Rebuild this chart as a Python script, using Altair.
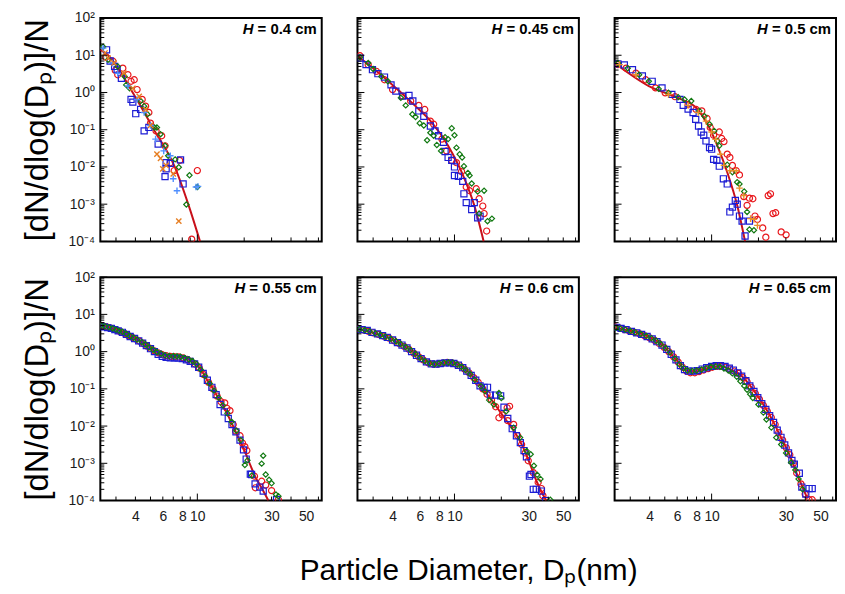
import altair as alt
import pandas as pd

FONT = "Liberation Sans"
X_DOMAIN = [2.38, 63.0]
Y_DOMAIN = [1e-4, 1e2]
X_LABELS = [4, 6, 8, 10, 30, 50]
X_MINOR = [3, 4, 5, 6, 7, 8, 9, 20, 30, 40, 50, 60]
X_MAJOR = [10]
Y_MAJOR = [1e-4, 1e-3, 1e-2, 1e-1, 1, 10, 100]
Y_MINOR = [k * 10.0 ** e for e in range(-4, 2) for k in range(2, 10)]
H_VALUES = ["0.4", "0.45", "0.5", "0.55", "0.6", "0.65"]

# ---------------- H = 0.4 cm ----------------
fit1 = [(2.38, 14), (2.67, 10), (3.84, 1.0), (5.26, 0.1), (7.16, 0.01), (8.74, 0.001), (10.4, 0.0001)]
p1_red = [(2.58, 8.9), (2.87, 6.9), (2.97, 3.9), (3.08, 3.0), (3.32, 4.5), (3.58, 3.0), (3.75, 2.0), (3.93, 2.2),
          (4.1, 1.2), (4.42, 0.65), (4.65, 0.43), (4.88, 0.29), (5.0, 0.15), (5.43, 0.093), (5.9, 0.069),
          (6.2, 0.037), (6.7, 0.013), (7.1, 0.008), (7.7, 0.015), (10.0, 0.008), (9.2, 0.000115)]
p1_green = [(2.48, 17), (2.67, 7.6), (3.08, 5.0), (3.41, 2.7), (3.49, 1.6), (3.67, 1.3), (4.32, 0.59), (4.55, 0.43),
            (4.78, 0.26), (5.3, 0.115), (5.5, 0.115), (5.8, 0.076), (6.2, 0.037), (6.5, 0.02), (7.2, 0.016),
            (7.6, 0.0098), (8.9, 0.006), (10.0, 0.0029), (8.5, 0.00098)]
p1_blue = [(2.61, 14), (2.75, 7.0), (2.94, 5.0), (3.05, 4.2), (3.25, 2.4), (3.75, 0.65), (3.85, 0.55), (4.02, 0.27),
           (4.32, 0.35), (4.55, 0.093), (4.88, 0.115), (5.6, 0.041), (6.3, 0.013), (6.3, 0.0089), (6.7, 0.0125),
           (7.8, 0.0155), (6.2, 0.0055), (8.1, 0.0035)]
p1_ltblue = [(2.48, 15.5), (2.84, 6.2), (3.08, 3.3), (3.58, 1.5), (4.1, 0.65), (4.55, 0.29), (5.0, 0.13),
             (5.39, 0.056), (6.08, 0.027), (6.7, 0.02), (7.0, 0.0048), (7.4, 0.0023), (9.8, 0.0029), (10.1, 0.003)]
p1_orange = [(2.55, 11.5), (2.67, 8.4), (2.91, 6.2), (3.37, 3.3), (3.85, 1.3), (4.23, 0.79), (4.65, 0.35),
             (5.0, 0.13), (5.5, 0.022), (5.8, 0.017), (6.0, 0.0089), (6.3, 0.011), (7.0, 0.0065), (7.6, 0.00035)]

# ---------------- H = 0.45 cm ----------------
fit2 = [(2.41, 9.3), (3.47, 2.7), (4.42, 1.09), (5.62, 0.43), (7.16, 0.155), (9.1, 0.037), (11.6, 0.0048),
        (13.4, 0.00093), (15.4, 0.0001)]
p2_red = [(2.47, 9.7), (2.79, 5.6), (3.15, 3.7), (3.55, 2.2), (4.0, 1.2), (4.64, 0.8), (5.23, 0.59), (5.9, 0.45),
          (6.44, 0.35), (7.0, 0.17), (7.35, 0.14), (8.3, 0.056), (8.9, 0.027), (9.6, 0.015), (10.3, 0.013),
          (11.1, 0.0075), (11.9, 0.0029), (12.5, 0.0023), (13.8, 0.0026), (14.4, 0.0014), (15.2, 0.00089),
          (15.5, 0.00056), (16.1, 0.00019)]
p2_green = [(2.47, 8.9), (2.79, 6.2), (3.0, 4.3), (3.39, 2.7), (3.73, 2.0), (4.52, 0.72), (4.86, 0.45), (5.36, 0.26),
            (5.62, 0.22), (5.98, 0.15), (6.35, 0.13), (6.67, 0.052), (7.0, 0.083), (7.35, 0.069), (7.7, 0.039),
            (8.2, 0.027), (8.7, 0.063), (9.1, 0.056), (9.6, 0.11), (10.0, 0.071), (10.3, 0.033), (10.8, 0.022),
            (11.2, 0.018), (11.5, 0.0105), (12.2, 0.0069), (12.5, 0.0059), (12.9, 0.0036), (14.1, 0.0022),
            (15.5, 0.0023), (14.4, 0.00056), (16.3, 0.00035), (17.4, 0.00041)]
p2_blue = [(2.48, 8.4), (2.7, 5.6), (2.97, 4.1), (3.22, 3.2), (3.55, 2.6), (3.91, 1.6), (4.2, 1.09), (4.64, 0.8),
           (5.1, 0.83), (5.4, 0.59), (5.9, 0.32), (6.35, 0.23), (7.0, 0.126), (7.5, 0.093), (7.9, 0.069),
           (8.5, 0.046), (8.7, 0.026), (9.1, 0.018), (9.6, 0.015), (10.0, 0.01), (10.0, 0.0059), (10.6, 0.0056),
           (11.3, 0.0041), (11.5, 0.0019), (11.9, 0.0011), (12.9, 0.00072), (13.4, 0.0011), (14.1, 0.00043),
           (14.6, 0.00048)]

# ---------------- H = 0.5 cm ----------------
fit3 = [(2.41, 5.9), (3.95, 1.48), (6.4, 0.65), (7.95, 0.39), (9.4, 0.14), (10.9, 0.037), (12.6, 0.0072),
        (14.6, 0.00093), (16.4, 0.0001)]
p3_red = [(2.5, 5.6), (2.82, 4.5), (3.26, 3.3), (3.77, 2.2), (4.36, 1.33), (5.03, 0.98), (5.82, 0.77), (7.06, 0.48),
          (7.95, 0.35), (8.65, 0.32), (9.35, 0.2), (9.8, 0.115), (10.3, 0.071), (11.2, 0.087), (11.6, 0.058),
          (12.0, 0.048), (12.6, 0.022), (13.1, 0.018), (13.6, 0.011), (14.4, 0.0079), (15.1, 0.0061),
          (16.1, 0.0016), (16.9, 0.00093), (17.5, 0.00145), (18.4, 0.0014), (19.0, 0.00048), (19.7, 0.00039),
          (21.3, 0.00023), (22.3, 0.00013), (23.1, 0.0017), (23.9, 0.0019), (24.8, 0.00056), (25.8, 0.00059),
          (28.0, 0.00018), (30.1, 0.00015)]
p3_green = [(2.5, 6.2), (2.89, 4.5), (3.42, 3.0), (3.95, 2.0), (4.57, 1.25), (5.28, 0.98), (6.1, 0.75), (6.7, 0.65),
            (7.4, 0.59), (8.35, 0.32), (9.0, 0.23), (9.7, 0.14), (10.4, 0.093), (10.9, 0.05), (11.2, 0.037),
            (12.6, 0.0115), (13.6, 0.0072), (14.6, 0.0039), (15.1, 0.0035), (16.2, 0.0022), (16.9, 0.00062),
            (17.5, 0.00021), (18.7, 0.0002)]
p3_blue = [(2.5, 5.9), (2.75, 5.5), (3.1, 4.1), (3.59, 2.8), (4.15, 2.0), (4.8, 1.33), (5.55, 0.89), (6.26, 0.65),
           (6.57, 0.45), (7.06, 0.36), (7.6, 0.29), (7.9, 0.19), (8.24, 0.126), (8.57, 0.087), (8.9, 0.071),
           (9.2, 0.05), (9.7, 0.033), (10.0, 0.03), (10.3, 0.016), (10.8, 0.015), (11.2, 0.0105), (11.9, 0.0048),
           (12.6, 0.0035), (13.1, 0.00062), (13.6, 0.00083), (14.2, 0.00126), (14.6, 0.001), (15.1, 0.00048),
           (15.7, 0.00035), (16.4, 0.00014), (17.5, 0.00035)]
p3_orange = [(2.56, 5.6), (3.26, 3.0), (5.28, 0.89), (7.06, 0.45), (8.2, 0.29), (9.2, 0.17), (10.0, 0.087),
             (10.6, 0.055), (11.4, 0.022), (12.0, 0.011), (13.1, 0.0079), (14.4, 0.0079), (15.1, 0.0027),
             (16.1, 0.0017), (17.8, 0.00041), (18.7, 0.00039), (19.7, 0.00027)]

# ---------------- H = 0.55 cm ----------------
fit4 = [(2.38, 5.2), (2.67, 4.6), (2.94, 4.0), (3.24, 3.5), (3.57, 2.8), (3.93, 2.35), (4.33, 1.85), (4.77, 1.45),
        (5.26, 1.1), (5.79, 0.9), (6.3, 0.8), (6.9, 0.74), (7.5, 0.73), (8.2, 0.7), (8.8, 0.62), (9.4, 0.53),
        (10.1, 0.41), (10.8, 0.28), (11.5, 0.18), (12.3, 0.12), (13.2, 0.072), (14.2, 0.044), (15.2, 0.026),
        (16.4, 0.0135), (17.6, 0.0072), (19.0, 0.0036), (20.5, 0.0018), (22.0, 0.00085), (23.8, 0.0004),
        (26.0, 0.00021), (28.6, 0.0001)]
p4_red = [(2.45, 5.0), (2.6, 4.7), (2.75, 4.3), (2.9, 4.0), (3.05, 3.7), (3.2, 3.4), (3.4, 3.1), (3.6, 2.7),
          (3.8, 2.45), (4.0, 2.2), (4.25, 1.9), (4.5, 1.65), (4.75, 1.4), (5.0, 1.22), (5.3, 1.05), (5.6, 0.93),
          (5.9, 0.84), (6.3, 0.78), (6.7, 0.74), (7.1, 0.73), (7.6, 0.72), (8.1, 0.68), (8.6, 0.62), (9.1, 0.55),
          (9.7, 0.46), (10.3, 0.36), (11.0, 0.24), (11.8, 0.15), (12.6, 0.1), (13.4, 0.064), (14.2, 0.045),
          (15.0, 0.042), (15.5, 0.03), (16.2, 0.026), (17.0, 0.011), (17.6, 0.0074), (18.8, 0.0055),
          (19.5, 0.0035), (20.2, 0.0028), (20.8, 0.0022), (23.3, 0.00045), (23.6, 0.00022), (25.9, 0.00033),
          (27.5, 0.00026), (30.0, 0.000185), (33.2, 0.000105)]
p4_green = [(2.42, 5.0), (2.55, 4.8), (2.7, 4.5), (2.85, 4.2), (3.0, 3.9), (3.15, 3.6), (3.3, 3.4), (3.5, 3.0),
            (3.7, 2.6), (3.9, 2.35), (4.1, 2.1), (4.4, 1.8), (4.65, 1.55), (4.9, 1.3), (5.2, 1.12), (5.5, 0.98),
            (5.85, 0.88), (6.2, 0.8), (6.6, 0.76), (7.0, 0.76), (7.4, 0.75), (7.8, 0.73), (8.3, 0.68), (8.8, 0.62),
            (9.3, 0.56), (9.9, 0.46), (10.5, 0.33), (11.2, 0.22), (12.0, 0.14), (12.8, 0.09), (13.7, 0.058),
            (14.6, 0.036), (15.6, 0.022), (16.6, 0.013), (17.8, 0.0075), (19.0, 0.0042), (20.2, 0.0009),
            (21.0, 0.0012), (22.4, 0.00047), (25.9, 0.00098), (26.5, 0.0016), (27.5, 0.0005), (28.9, 0.00036),
            (30.0, 0.00029), (32.0, 0.000145), (33.2, 0.00013)]
p4_blue = [(2.4, 4.8), (2.52, 4.6), (2.65, 4.4), (2.8, 4.2), (2.95, 3.9), (3.1, 3.6), (3.3, 3.3), (3.5, 2.9),
           (3.7, 2.55), (3.95, 2.25), (4.2, 1.95), (4.45, 1.7), (4.7, 1.45), (5.0, 1.2), (5.3, 1.0), (5.6, 0.85),
           (5.95, 0.75), (6.3, 0.7), (6.7, 0.68), (7.1, 0.68), (7.5, 0.67), (8.0, 0.65), (8.5, 0.6), (9.0, 0.55),
           (9.6, 0.47), (10.2, 0.38), (10.9, 0.26), (11.6, 0.17), (12.4, 0.11), (13.2, 0.07), (14.0, 0.038),
           (14.9, 0.024), (15.8, 0.016), (16.7, 0.011), (17.7, 0.007), (18.8, 0.0042), (19.8, 0.0023),
           (20.6, 0.0013), (21.9, 0.00051), (22.3, 0.0005), (23.5, 0.00028), (25.2, 0.00023), (26.5, 0.00018),
           (32.3, 0.000106)]

# ---------------- H = 0.6 cm ----------------
fit5 = [(2.44, 4.0), (2.86, 3.4), (3.3, 2.8), (3.82, 2.27), (4.42, 1.67), (5.1, 1.18), (5.9, 0.74), (6.8, 0.52),
        (7.5, 0.46), (8.3, 0.49), (9.1, 0.52), (10.0, 0.49), (11.1, 0.4), (12.2, 0.29), (13.4, 0.195),
        (14.8, 0.117), (16.3, 0.07), (17.9, 0.042), (19.8, 0.023), (22.9, 0.01), (25.2, 0.0055), (27.7, 0.0026),
        (30.6, 0.00095), (33.6, 0.00034), (36.4, 0.000165), (38.9, 0.0001)]
p5_red = [(2.42, 4.1), (2.6, 3.8), (2.8, 3.5), (3.0, 3.2), (3.25, 2.9), (3.5, 2.6), (3.8, 2.3), (4.1, 1.95),
          (4.4, 1.65), (4.75, 1.38), (5.1, 1.15), (5.5, 0.9), (5.9, 0.72), (6.3, 0.6), (6.8, 0.5), (7.3, 0.46),
          (7.8, 0.46), (8.4, 0.49), (9.0, 0.51), (9.6, 0.5), (10.2, 0.47), (10.9, 0.41), (11.6, 0.34),
          (12.4, 0.27), (13.3, 0.2), (14.2, 0.15), (15.2, 0.1), (16.2, 0.072), (17.3, 0.05), (18.4, 0.033),
          (19.3, 0.0167), (20.3, 0.02), (21.8, 0.031), (22.6, 0.034), (22.0, 0.014), (24.0, 0.0111),
          (25.5, 0.0055), (27.0, 0.0032), (28.5, 0.0019), (29.8, 0.00117), (32.1, 0.00056), (34.5, 0.00031),
          (36.2, 0.00021), (37.0, 0.000135)]
p5_blue = [(2.4, 4.0), (2.55, 3.9), (2.75, 3.7), (2.95, 3.3), (3.2, 3.0), (3.45, 2.7), (3.7, 2.4), (4.0, 2.05),
           (4.3, 1.75), (4.6, 1.5), (4.95, 1.25), (5.3, 1.0), (5.7, 0.8), (6.1, 0.65), (6.6, 0.53), (7.1, 0.47),
           (7.6, 0.46), (8.1, 0.48), (8.7, 0.5), (9.3, 0.5), (9.9, 0.48), (10.6, 0.43), (11.3, 0.37), (12.0, 0.3),
           (12.8, 0.23), (13.7, 0.17), (14.6, 0.12), (15.5, 0.11), (16.3, 0.11), (17.0, 0.068), (18.4, 0.068),
           (19.8, 0.065), (20.8, 0.032), (22.0, 0.016), (23.5, 0.0085), (25.0, 0.0055), (26.5, 0.0036),
           (28.0, 0.0022), (29.0, 0.0015), (30.3, 0.00045), (31.0, 0.0005), (32.1, 0.0002), (33.5, 0.0002),
           (36.2, 0.00018), (38.5, 0.0001)]
p5_green = [(2.45, 4.0), (2.65, 3.8), (2.85, 3.5), (3.1, 3.1), (3.35, 2.8), (3.6, 2.5), (3.9, 2.2), (4.2, 1.9),
            (4.5, 1.6), (4.85, 1.33), (5.2, 1.1), (5.6, 0.87), (6.0, 0.68), (6.45, 0.56), (6.95, 0.48),
            (7.45, 0.46), (7.95, 0.48), (8.55, 0.5), (9.15, 0.51), (9.75, 0.5), (10.4, 0.45), (11.1, 0.39),
            (11.8, 0.32), (12.6, 0.25), (13.5, 0.175), (14.8, 0.117), (15.7, 0.086), (16.7, 0.05), (17.9, 0.038),
            (19.3, 0.077), (20.0, 0.057), (21.5, 0.025), (24.0, 0.009), (26.4, 0.0049), (29.1, 0.00215),
            (30.9, 0.00175), (32.4, 0.00086), (34.0, 0.00049), (35.7, 0.00038), (41.3, 0.000105)]

# ---------------- H = 0.65 cm ----------------
fit6 = [(2.43, 4.4), (2.81, 3.8), (3.26, 3.3), (3.77, 2.7), (4.15, 2.27), (4.57, 1.77), (5.03, 1.28), (5.54, 0.81),
        (6.11, 0.52), (6.57, 0.36), (7.06, 0.30), (7.78, 0.29), (8.57, 0.32), (9.44, 0.36), (10.4, 0.4),
        (11.5, 0.4), (12.6, 0.36), (13.9, 0.30), (15.3, 0.24), (16.8, 0.158), (18.5, 0.095), (20.5, 0.051),
        (22.5, 0.028), (24.8, 0.0136), (27.3, 0.006), (30.2, 0.0026), (33.2, 0.00105), (35.7, 0.00046),
        (38.4, 0.00023), (41.3, 0.000112)]
p6_red = [(2.4, 4.6), (2.55, 4.3), (2.75, 3.9), (2.95, 3.6), (3.2, 3.3), (3.45, 3.0), (3.7, 2.7), (4.0, 2.35),
          (4.3, 2.0), (4.6, 1.65), (4.95, 1.3), (5.3, 1.0), (5.7, 0.72), (6.1, 0.52), (6.5, 0.38), (6.9, 0.3),
          (7.3, 0.27), (7.8, 0.27), (8.3, 0.29), (8.9, 0.32), (9.5, 0.35), (10.1, 0.38), (10.8, 0.4), (11.5, 0.4),
          (12.3, 0.38), (13.1, 0.34), (14.0, 0.3), (14.9, 0.26), (15.9, 0.2), (16.9, 0.155), (18.0, 0.11),
          (19.1, 0.075), (20.3, 0.052), (21.5, 0.036), (22.8, 0.025), (24.2, 0.017), (25.6, 0.011), (27.0, 0.0067),
          (28.6, 0.0042), (30.2, 0.0026), (31.8, 0.0017), (33.5, 0.001), (35.2, 0.00055), (37.5, 0.00028),
          (39.9, 0.00015), (42.3, 0.000105), (44.3, 0.000105)]
p6_blue = [(2.45, 4.5), (2.62, 4.2), (2.82, 3.9), (3.05, 3.5), (3.3, 3.2), (3.55, 2.9), (3.85, 2.55), (4.15, 2.2),
           (4.45, 1.85), (4.8, 1.5), (5.15, 1.15), (5.5, 0.85), (5.9, 0.6), (6.3, 0.42), (6.7, 0.33), (7.1, 0.3),
           (7.6, 0.3), (8.1, 0.31), (8.7, 0.34), (9.3, 0.37), (10.0, 0.4), (10.7, 0.42), (11.4, 0.42), (12.2, 0.4),
           (13.0, 0.36), (13.8, 0.32), (14.7, 0.27), (15.6, 0.22), (16.6, 0.165), (17.6, 0.12), (18.7, 0.085),
           (19.8, 0.058), (21.0, 0.04), (22.3, 0.028), (23.6, 0.019), (25.0, 0.0125), (26.4, 0.0078),
           (27.9, 0.005), (29.5, 0.0031), (31.2, 0.0019), (32.8, 0.0012), (34.0, 0.00095), (36.6, 0.00054),
           (38.0, 0.00023), (40.3, 0.00015), (42.3, 0.00021), (44.3, 0.00021)]
p6_green = [(2.42, 4.4), (2.58, 4.2), (2.78, 3.9), (3.0, 3.6), (3.22, 3.3), (3.5, 3.0), (3.8, 2.65), (4.1, 2.3),
            (4.4, 1.95), (4.7, 1.6), (5.05, 1.25), (5.4, 0.95), (5.8, 0.65), (6.2, 0.46), (6.6, 0.36), (7.0, 0.31),
            (7.5, 0.3), (8.0, 0.31), (8.6, 0.33), (9.2, 0.36), (9.9, 0.39), (10.6, 0.4), (11.3, 0.39), (12.0, 0.35),
            (12.8, 0.31), (13.6, 0.26), (14.5, 0.21), (15.3, 0.16), (16.2, 0.12), (16.9, 0.095), (17.7, 0.072),
            (18.4, 0.057), (20.0, 0.038), (21.5, 0.023), (22.5, 0.015), (24.2, 0.0091), (26.0, 0.0049),
            (28.0, 0.0032), (30.1, 0.0019), (32.4, 0.00105), (34.5, 0.00066), (36.2, 0.00038), (38.4, 0.0002)]

PANELS = [
    {"fit": fit1, "red": p1_red, "blue": p1_blue, "green": p1_green, "ltblue_plus": p1_ltblue, "orange_x": p1_orange},
    {"fit": fit2, "red": p2_red, "blue": p2_blue, "green": p2_green},
    {"fit": fit3, "red": p3_red, "blue": p3_blue, "green": p3_green, "orange_plus": p3_orange},
    {"fit": fit4, "red": p4_red, "blue": p4_blue, "green": p4_green},
    {"fit": fit5, "red": p5_red, "blue": p5_blue, "green": p5_green},
    {"fit": fit6, "red": p6_red, "blue": p6_blue, "green": p6_green},
]

PLUS = "M-1,0L1,0M0,-1L0,1"
CROSS = "M-1,-1L1,1M-1,1L1,-1"
STYLE = {
    "red": dict(shape="circle", color="#e8161b", size=38, sw=1.2),
    "blue": dict(shape="square", color="#1c1cd4", size=38, sw=1.2),
    "green": dict(shape="diamond", color="#137a13", size=28, sw=1.2),
    "ltblue_plus": dict(shape=PLUS, color="#4f8fff", size=44, sw=1.4),
    "orange_x": dict(shape=CROSS, color="#e67e22", size=28, sw=1.4),
    "orange_plus": dict(shape=PLUS, color="#e8902a", size=44, sw=1.4),
}
ORDER = ["red", "blue", "green", "ltblue_plus", "orange_x", "orange_plus"]

W, H = 223, 225
Y_TITLE = "[dN/dlog(Dₚ)]/N"
X_TITLE = "Particle Diameter, Dₚ(nm)"

# approximate bold glyph widths (em) for placing the italic H
CW = {"=": 0.584, " ": 0.278, "0": 0.556, "4": 0.556, "5": 0.556, "6": 0.556, ".": 0.278, "c": 0.556, "m": 0.889}

Y_LABEL_EXPR = ("datum.value >= 50 ? '10²' : datum.value >= 5 ? '10¹' : datum.value >= 0.5 ? '10⁰' : "
                "datum.value >= 0.05 ? '10⁻¹' : datum.value >= 0.005 ? '10⁻²' : "
                "datum.value >= 0.0005 ? '10⁻³' : '10⁻⁴'")


def to_df(pts):
    return pd.DataFrame({"Dp": [p[0] for p in pts], "v": [p[1] for p in pts]})


def make_panel(i):
    row, col = divmod(i, 3)
    if row == 1:
        ax = dict(values=X_LABELS, format="d", ticks=False, domain=False, grid=False, labelPadding=9,
                  labelFontSize=14, labelFont=FONT, labelColor="#1a1a1a")
        if col == 1:
            ax.update(title=X_TITLE, titleFontSize=30, titleFont=FONT, titleFontWeight="normal",
                      titleColor="black", titlePadding=33)
        else:
            ax.update(title=None)
        xaxis = alt.Axis(**ax)
    else:
        xaxis = None
    if col == 0:
        yaxis = alt.Axis(values=Y_MAJOR, labelExpr=Y_LABEL_EXPR, ticks=False, domain=False, grid=False,
                         labelPadding=6, labelFontSize=14, labelFont=FONT, labelColor="#1a1a1a",
                         title=Y_TITLE, titleFontSize=33, titleFont=FONT, titleFontWeight="normal",
                         titleColor="black", titlePadding=14)
    else:
        yaxis = None
    X = alt.X("Dp:Q", scale=alt.Scale(type="log", domain=X_DOMAIN, nice=False), axis=xaxis)
    Y = alt.Y("v:Q", scale=alt.Scale(type="log", domain=Y_DOMAIN, nice=False), axis=yaxis)

    d = PANELS[i]
    layers = []
    layers.append(alt.Chart(to_df(d["fit"])).mark_line(color="#c8101a", strokeWidth=2, interpolate="monotone",
                                                        clip=True).encode(x=X, y=Y))
    for key in ORDER:
        if key in d:
            st = STYLE[key]
            layers.append(alt.Chart(to_df(d[key])).mark_point(shape=st["shape"], filled=False, color=st["color"],
                                                              size=st["size"], strokeWidth=st["sw"], opacity=1,
                                                              clip=True).encode(x=X, y=Y))
    # inward ticks
    layers.append(alt.Chart(pd.DataFrame({"Dp": X_MINOR})).mark_rule(color="black", strokeWidth=1)
                  .encode(x=X, y=alt.value(H), y2=alt.value(H - 4)))
    layers.append(alt.Chart(pd.DataFrame({"Dp": X_MAJOR})).mark_rule(color="black", strokeWidth=1)
                  .encode(x=X, y=alt.value(H), y2=alt.value(H - 7)))
    layers.append(alt.Chart(pd.DataFrame({"v": Y_MINOR})).mark_rule(color="black", strokeWidth=1)
                  .encode(y=Y, x=alt.value(0), x2=alt.value(4)))
    layers.append(alt.Chart(pd.DataFrame({"v": Y_MAJOR})).mark_rule(color="black", strokeWidth=1)
                  .encode(y=Y, x=alt.value(0), x2=alt.value(7)))
    # H label
    fs = 15
    rest = "= " + H_VALUES[i] + " cm"
    wrest = sum(CW.get(c, 0.556) for c in rest) * fs
    layers.append(alt.Chart(pd.DataFrame({"t": [rest]})).mark_text(
        align="right", baseline="alphabetic", fontSize=fs, fontWeight="bold", font=FONT, color="black")
        .encode(text="t:N", x=alt.value(W - 5), y=alt.value(16)))
    layers.append(alt.Chart(pd.DataFrame({"t": ["H"]})).mark_text(
        align="right", baseline="alphabetic", fontSize=fs, fontWeight="bold", fontStyle="italic", font=FONT,
        color="black").encode(text="t:N", x=alt.value(W - 5 - wrest - 0.278 * fs), y=alt.value(16)))
    return alt.layer(*layers).properties(width=W, height=H)


rows = [alt.hconcat(*[make_panel(i) for i in range(r * 3, r * 3 + 3)], spacing=36, bounds="flush")
        for r in range(2)]
chart = (alt.vconcat(*rows, spacing=20)
         .properties(padding={"left": 12, "top": 0, "right": 0, "bottom": 0}, background="white")
         .configure(font=FONT)
         .configure_view(stroke="black", strokeWidth=2))

chart.save("out.html", embed_options={"renderer": "svg", "actions": False})
